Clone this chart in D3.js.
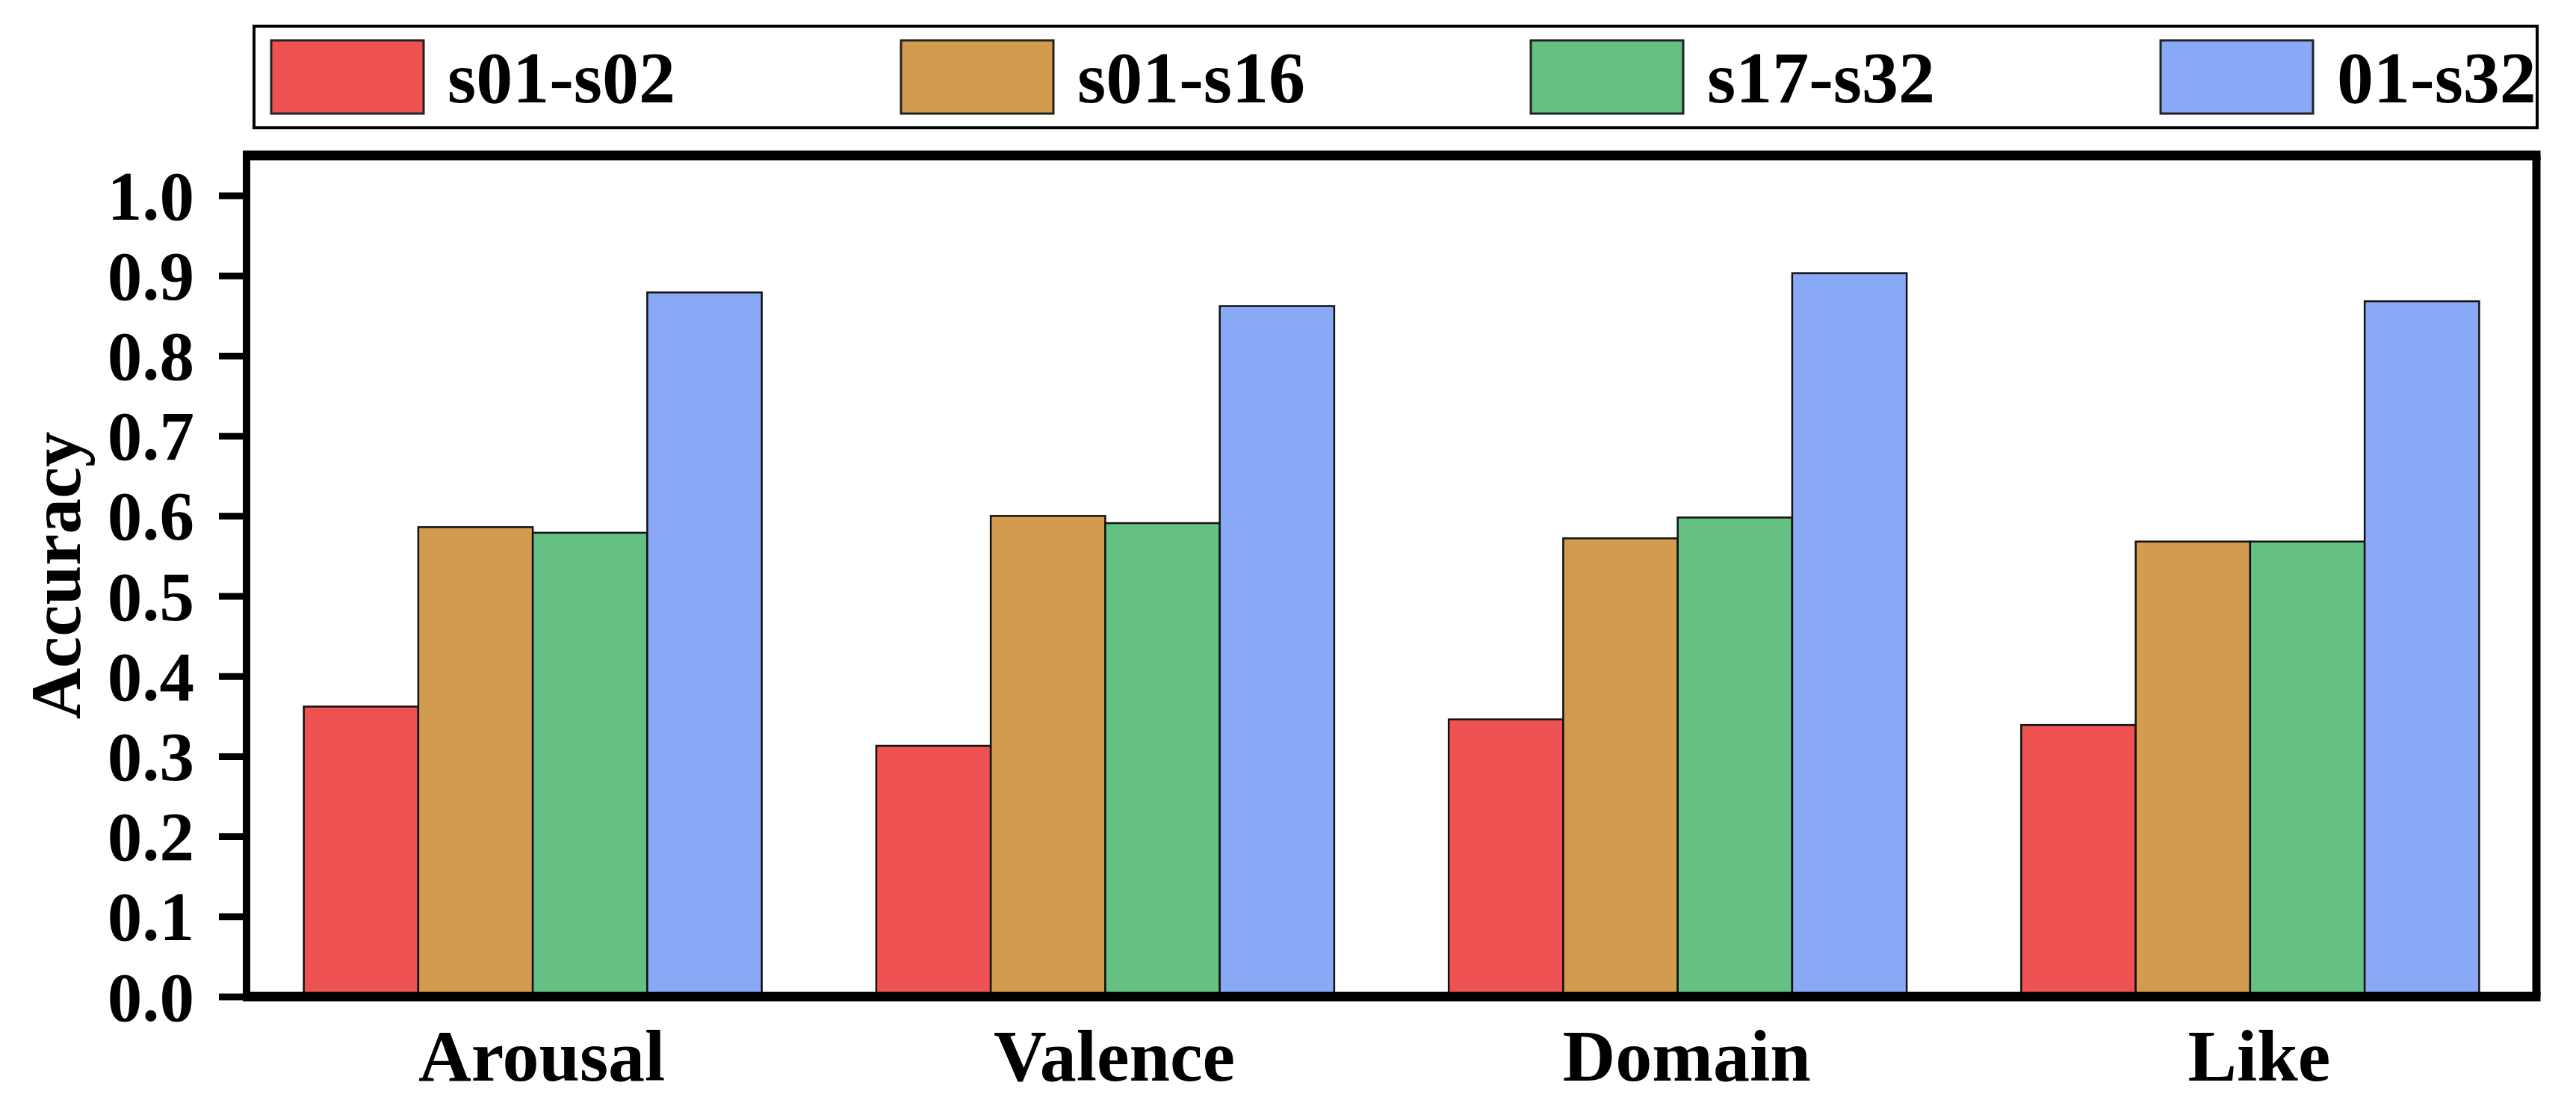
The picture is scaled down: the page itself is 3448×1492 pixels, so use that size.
<!DOCTYPE html>
<html><head><meta charset="utf-8">
<script src="https://cdn.jsdelivr.net/npm/d3@7"></script>
<style>html,body{margin:0;padding:0;background:#fff;}svg{display:block;}</style>
</head><body>
<svg id="chart" width="3448" height="1492"></svg>
<script>
const categories = ["Arousal", "Valence", "Domain", "Like"];
const seriesNames = ["s01-s02", "s01-s16", "s17-s32", "01-s32"];
const s01_s02 = [0.362, 0.313, 0.346, 0.339];
const s01_s16 = [0.586, 0.600, 0.572, 0.568];
const s17_s32 = [0.579, 0.591, 0.598, 0.568];
const s01_s32 = [0.879, 0.862, 0.903, 0.868];
const yTicks = [0.0, 0.1, 0.2, 0.3, 0.4, 0.5, 0.6, 0.7, 0.8, 0.9, 1.0];
const colors = ["#EE5252", "#D39B4E", "#64C183", "#89A8F5"];
const seriesValues = [s01_s02, s01_s16, s17_s32, s01_s32];

const font = "'Liberation Serif','Times New Roman',serif";
const svg = d3.select("#chart");
const L = 330, R = 3395, T = 208, B = 1333.5;

const x0 = d3.scaleBand().domain(categories).range([L, R]).paddingInner(0.2).paddingOuter(0.1);
const x1 = d3.scaleBand().domain(seriesNames).range([0, x0.bandwidth()]);
const y = d3.scaleLinear().domain([0, 1.05]).range([B, T]);

// bars
const g = svg.append("g");
categories.forEach((c, ci) => {
  seriesNames.forEach((s, si) => {
    const v = seriesValues[si][ci];
    g.append("rect")
      .attr("x", x0(c) + x1(s))
      .attr("y", y(v))
      .attr("width", x1.bandwidth())
      .attr("height", y(0) - y(v))
      .attr("fill", colors[si])
      .attr("stroke", "#111")
      .attr("stroke-width", 2.5);
  });
});

// y axis
const yAxis = d3.axisLeft(y).tickValues(yTicks).tickFormat(d3.format(".1f")).tickSize(37).tickPadding(33);
const ya = svg.append("g").attr("transform", `translate(${L},0)`).call(yAxis);
ya.select(".domain").remove();
ya.selectAll(".tick line").attr("stroke", "#000").attr("stroke-width", 9);
ya.selectAll(".tick text").attr("font-family", font).attr("font-weight", "bold")
  .attr("font-size", 93).attr("fill", "#000").attr("dy", "0.34em");

// x axis labels
const xAxis = d3.axisBottom(x0).tickSize(0).tickPadding(0);
const xa = svg.append("g").attr("transform", `translate(0,${B})`).call(xAxis);
xa.select(".domain").remove();
xa.selectAll(".tick text").attr("font-family", font).attr("font-weight", "bold")
  .attr("font-size", 98).attr("fill", "#000").attr("dy", null).attr("y", 1446 - B).attr("dx", 12);

// frame
svg.append("line").attr("x1", L - 5).attr("x2", R + 5.5).attr("y1", T).attr("y2", T).attr("stroke", "#000").attr("stroke-width", 13);
svg.append("line").attr("x1", L - 5).attr("x2", R + 5.5).attr("y1", B).attr("y2", B).attr("stroke", "#000").attr("stroke-width", 13);
svg.append("line").attr("x1", L).attr("x2", L).attr("y1", T).attr("y2", B).attr("stroke", "#000").attr("stroke-width", 10);
svg.append("line").attr("x1", R).attr("x2", R).attr("y1", T).attr("y2", B).attr("stroke", "#000").attr("stroke-width", 11);

// y title
svg.append("text").attr("transform", "translate(107,770) rotate(-90)")
  .attr("text-anchor", "middle").attr("font-family", font).attr("font-weight", "bold")
  .attr("font-size", 95).attr("fill", "#000").text("Accuracy");

// legend
svg.append("rect").attr("x", 340).attr("y", 35).attr("width", 3056).attr("height", 136)
  .attr("fill", "#fff").attr("stroke", "#000").attr("stroke-width", 4);
const lx = d3.scaleLinear().domain([0, 3]).range([363, 2892]);
seriesNames.forEach((s, i) => {
  svg.append("rect").attr("x", lx(i)).attr("y", 54).attr("width", 204).attr("height", 98)
    .attr("fill", colors[i]).attr("stroke", "#222").attr("stroke-width", 3);
  svg.append("text").attr("x", lx(i) + 204 + 32).attr("y", 137)
    .attr("font-family", font).attr("font-weight", "bold").attr("font-size", 98)
    .attr("fill", "#000").text(s);
});
</script>
</body></html>
